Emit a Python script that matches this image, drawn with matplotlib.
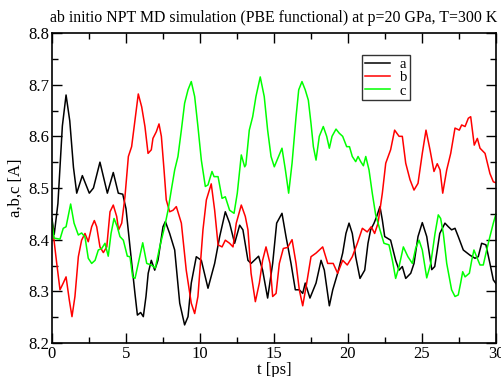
import matplotlib
matplotlib.use("Agg")
import matplotlib.pyplot as plt
from matplotlib.ticker import MultipleLocator

plt.rcParams['font.family'] = ['Liberation Serif', 'DejaVu Serif']

title = "ab initio NPT MD simulation (PBE functional) at p=20 GPa, T=300 K"
xlabel = "t [ps]"
ylabel = "a,b,c [A]"
xtick_labels = ['0', '5', '10', '15', '20', '25', '30']
ytick_labels = ['8.2', '8.3', '8.4', '8.5', '8.6', '8.7', '8.8']

t_a = [0.0, 0.15, 0.4, 0.7, 0.95, 1.2, 1.45, 1.67, 2.05, 2.52, 2.8, 3.24, 3.74, 4.14, 4.48,
       4.78, 5.0, 5.27, 5.6, 5.77, 5.99, 6.17, 6.35, 6.5, 6.71, 6.94, 7.16, 7.5, 7.66, 7.95,
       8.29, 8.63, 8.96, 9.19, 9.41, 9.75, 10.09, 10.54, 10.99, 11.33, 11.71, 12.0, 12.34,
       12.68, 12.9, 13.24, 13.45, 13.67, 13.96, 14.23, 14.57, 14.91, 15.18, 15.54, 15.81,
       16.15, 16.44, 16.71, 16.94, 17.11, 17.43, 17.84, 18.18, 18.4, 18.74, 18.97, 19.3,
       19.64, 19.86, 20.07, 20.29, 20.52, 20.81, 21.13, 21.35, 21.53, 21.76, 21.94, 22.16,
       22.32, 22.48, 22.88, 23.22, 23.45, 23.67, 23.9, 24.24, 24.46, 24.73, 25.02, 25.32,
       25.66, 25.86, 26.2, 26.55, 26.78, 27.0, 27.23, 27.45, 27.79, 28.24, 28.58, 28.8,
       29.03, 29.32, 29.59, 29.82, 30.0]
a = [8.44, 8.41, 8.47, 8.62, 8.68, 8.63, 8.54, 8.49, 8.524, 8.49, 8.50, 8.55, 8.49, 8.53,
     8.49, 8.488, 8.46, 8.386, 8.297, 8.254, 8.259, 8.251, 8.29, 8.335, 8.36, 8.341, 8.36,
     8.425, 8.435, 8.412, 8.38, 8.277, 8.235, 8.251, 8.316, 8.367, 8.36, 8.306, 8.354,
     8.406, 8.454, 8.432, 8.393, 8.428, 8.419, 8.36, 8.354, 8.36, 8.368, 8.341, 8.287,
     8.354, 8.432, 8.451, 8.406, 8.354, 8.303, 8.303, 8.296, 8.316, 8.287, 8.316, 8.36,
     8.341, 8.272, 8.303, 8.335, 8.374, 8.412, 8.432, 8.412, 8.367, 8.325, 8.341, 8.393,
     8.419, 8.432, 8.445, 8.464, 8.438, 8.406, 8.399, 8.36, 8.341, 8.348, 8.325, 8.335,
     8.354, 8.406, 8.433, 8.406, 8.342, 8.348, 8.412, 8.432, 8.425, 8.419, 8.422, 8.406,
     8.38, 8.37, 8.364, 8.367, 8.393, 8.39, 8.354, 8.322, 8.315]

t_b = [0.0, 0.32, 0.54, 0.76, 0.95, 1.17, 1.35, 1.55, 1.78, 2.0, 2.23, 2.45, 2.68, 2.86,
       3.02, 3.24, 3.47, 3.7, 3.92, 4.14, 4.37, 4.5, 4.71, 4.93, 5.16, 5.38, 5.61, 5.83,
       6.06, 6.28, 6.49, 6.71, 6.82, 7.05, 7.23, 7.39, 7.57, 7.72, 7.95, 8.18, 8.4, 8.74,
       9.07, 9.41, 9.64, 9.86, 10.2, 10.43, 10.76, 10.99, 11.22, 11.49, 11.71, 12.0, 12.23,
       12.45, 12.79, 13.06, 13.24, 13.45, 13.74, 14.01, 14.23, 14.46, 14.73, 14.91, 15.14,
       15.36, 15.63, 15.92, 16.22, 16.49, 16.71, 16.94, 17.21, 17.5, 17.84, 18.29, 18.63,
       19.0, 19.3, 19.64, 19.95, 20.29, 20.63, 20.97, 21.3, 21.57, 21.8, 22.03, 22.32, 22.55,
       22.88, 23.15, 23.45, 23.67, 23.9, 24.19, 24.46, 24.73, 25.02, 25.27, 25.54, 25.81,
       26.03, 26.22, 26.4, 26.67, 26.94, 27.23, 27.52, 27.68, 27.91, 28.13, 28.29, 28.53,
       28.74, 28.92, 29.26, 29.59, 29.82, 30.0]
b = [8.432, 8.354, 8.303, 8.316, 8.328, 8.283, 8.251, 8.29, 8.367, 8.399, 8.412, 8.396,
     8.425, 8.437, 8.425, 8.386, 8.375, 8.386, 8.454, 8.467, 8.445, 8.419, 8.432, 8.483,
     8.561, 8.58, 8.632, 8.682, 8.657, 8.619, 8.567, 8.574, 8.596, 8.609, 8.624, 8.6,
     8.535, 8.477, 8.454, 8.457, 8.464, 8.432, 8.341, 8.277, 8.257, 8.29, 8.419, 8.477,
     8.508, 8.457, 8.39, 8.386, 8.399, 8.393, 8.386, 8.432, 8.467, 8.445, 8.419, 8.335,
     8.28, 8.316, 8.36, 8.386, 8.354, 8.29, 8.296, 8.354, 8.383, 8.385, 8.4, 8.354, 8.303,
     8.272, 8.316, 8.367, 8.374, 8.386, 8.354, 8.354, 8.335, 8.36, 8.351, 8.367, 8.393,
     8.422, 8.415, 8.425, 8.412, 8.432, 8.49, 8.548, 8.574, 8.612, 8.6, 8.6, 8.548, 8.516,
     8.496, 8.509, 8.567, 8.612, 8.574, 8.532, 8.547, 8.535, 8.49, 8.535, 8.567, 8.616,
     8.612, 8.622, 8.619, 8.635, 8.638, 8.583, 8.596, 8.577, 8.567, 8.528, 8.512, 8.51]

t_c = [0.0, 0.14, 0.54, 0.76, 0.95, 1.26, 1.49, 1.78, 2.0, 2.23, 2.45, 2.68, 2.91, 3.13,
       3.36, 3.58, 3.8, 3.99, 4.19, 4.41, 4.59, 4.82, 5.09, 5.27, 5.45, 5.61, 5.83, 6.13,
       6.4, 6.71, 6.98, 7.28, 7.61, 7.84, 8.06, 8.29, 8.51, 8.74, 8.96, 9.19, 9.41, 9.64,
       9.86, 10.09, 10.36, 10.54, 10.81, 10.95, 11.22, 11.49, 11.71, 12.0, 12.3, 12.52,
       12.79, 13.02, 13.1, 13.33, 13.56, 13.78, 14.07, 14.34, 14.57, 14.8, 15.02, 15.25,
       15.54, 15.77, 15.99, 16.22, 16.49, 16.67, 16.89, 17.11, 17.32, 17.5, 17.66, 17.84,
       18.06, 18.33, 18.56, 18.74, 18.92, 19.19, 19.41, 19.64, 19.91, 20.1, 20.29, 20.52,
       20.68, 20.86, 21.04, 21.2, 21.42, 21.64, 21.87, 22.16, 22.43, 22.77, 23.0, 23.22,
       23.45, 23.74, 24.05, 24.35, 24.57, 24.8, 25.02, 25.32, 25.59, 25.88, 26.1, 26.26,
       26.44, 26.67, 27.0, 27.23, 27.45, 27.61, 27.75, 27.91, 28.2, 28.36, 28.51, 28.69,
       28.92, 29.14, 29.37, 29.59, 29.82, 30.0]
c = [8.435, 8.403, 8.401, 8.422, 8.425, 8.469, 8.432, 8.409, 8.413, 8.405, 8.364, 8.354,
     8.36, 8.38, 8.383, 8.393, 8.368, 8.412, 8.441, 8.425, 8.406, 8.399, 8.368, 8.367,
     8.328, 8.325, 8.354, 8.394, 8.354, 8.351, 8.345, 8.386, 8.425, 8.457, 8.496, 8.535,
     8.561, 8.612, 8.664, 8.69, 8.706, 8.677, 8.619, 8.554, 8.503, 8.506, 8.532, 8.522,
     8.522, 8.48, 8.483, 8.457, 8.451, 8.49, 8.564, 8.541, 8.545, 8.612, 8.638, 8.677,
     8.715, 8.677, 8.612, 8.561, 8.541, 8.557, 8.577, 8.535, 8.49, 8.548, 8.638, 8.69,
     8.706, 8.69, 8.67, 8.625, 8.58, 8.554, 8.6, 8.619, 8.6, 8.577, 8.6, 8.614, 8.606,
     8.6, 8.58, 8.58, 8.561, 8.551, 8.561, 8.551, 8.543, 8.561, 8.535, 8.49, 8.448, 8.419,
     8.393, 8.39, 8.36, 8.325, 8.348, 8.386, 8.367, 8.354, 8.383, 8.399, 8.38, 8.326,
     8.354, 8.412, 8.448, 8.441, 8.412, 8.354, 8.303, 8.29, 8.293, 8.316, 8.338, 8.328,
     8.335, 8.36, 8.38, 8.367, 8.351, 8.351, 8.38, 8.406, 8.432, 8.45]

fig = plt.figure(figsize=(5.02, 3.77), dpi=100)
ax = fig.add_axes([52/502, 1-343/377, 444/502, 310/377])

lw = 1.1
ax.plot(t_a, a, color='black', lw=lw, label='a')
ax.plot(t_b, b, color='#ff0000', lw=lw, label='b')
ax.plot(t_c, c, color='#00ff00', lw=lw, label='c')

ax.set_xlim(0, 30)
ax.set_ylim(8.2, 8.8)
ax.set_xticks([float(s) for s in xtick_labels])
ax.set_xticklabels(xtick_labels)
ax.set_yticks([float(s) for s in ytick_labels])
ax.set_yticklabels(ytick_labels)
ax.xaxis.set_minor_locator(MultipleLocator(2.5))
ax.yaxis.set_minor_locator(MultipleLocator(0.05))
ax.tick_params(which='both', direction='in', top=True, right=True, width=1.0,
               labelsize=12, pad=2)
ax.tick_params(which='major', length=7)
ax.tick_params(which='minor', length=4)
for s in ax.spines.values():
    s.set_linewidth(1.2)

ax.set_xlabel(xlabel, fontsize=12, labelpad=0)
ax.set_ylabel(ylabel, fontsize=12, labelpad=3)
ax.set_title(title, fontsize=11.4, pad=8)

leg = ax.legend(loc='upper left', bbox_to_anchor=((362-52)/444, (343-55)/310),
                frameon=True, fancybox=False, shadow=False, fontsize=10.5,
                handlelength=1.7, handletextpad=0.7, borderpad=0.2,
                labelspacing=0.0, borderaxespad=0)
leg.get_frame().set_edgecolor('black')
leg.get_frame().set_linewidth(1.0)

fig.savefig('out.png', dpi=100)
